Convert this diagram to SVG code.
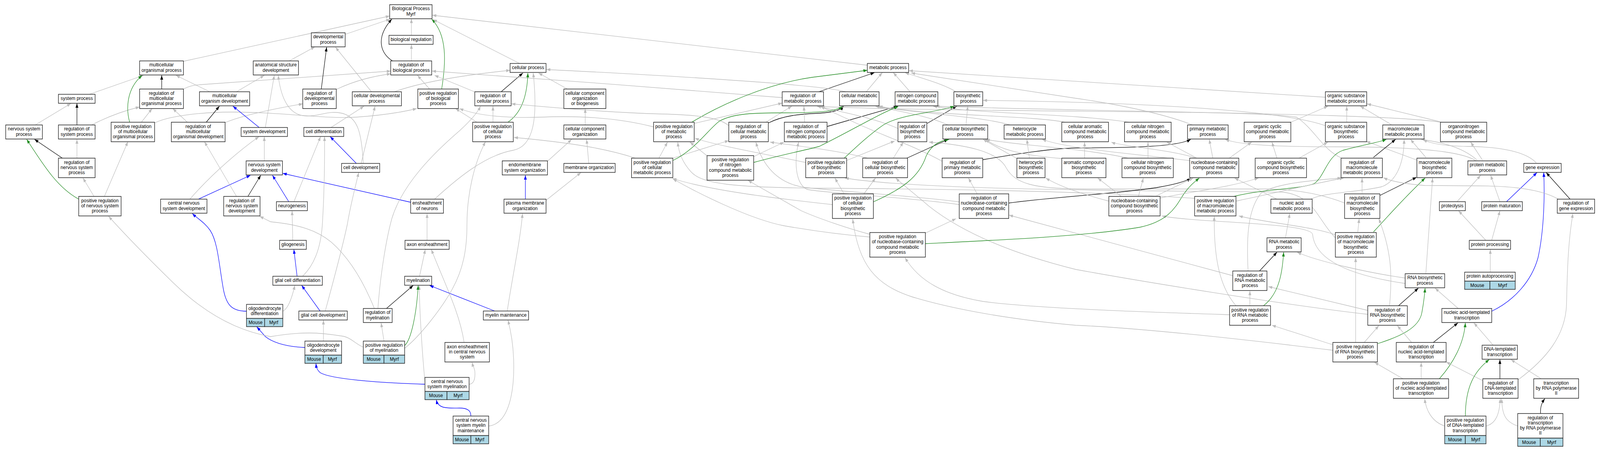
<svg xmlns="http://www.w3.org/2000/svg" width="4492" height="1155" viewBox="0 0 4492 1155" preserveAspectRatio="none" style="width:100%;height:100%;display:block">
<style>
.e{fill:none;stroke-width:1.3}
.g{stroke:#bdbdbd;marker-end:url(#mg)}
.k{stroke:#000;marker-end:url(#mk)}
.p{stroke:#228b22;marker-end:url(#mp)}
.b{stroke:#0000ff;marker-end:url(#mb)}
rect.n{fill:#fff;stroke:#222;stroke-width:1.5}
rect.m{fill:#add8e6;stroke:#222;stroke-width:1.5}
text{font-family:"Liberation Sans",Arial,sans-serif;font-size:13px;text-anchor:middle;fill:#000}
</style>
<defs>
<marker id="mg" viewBox="0 0 11 8" refX="11" refY="4" markerWidth="11" markerHeight="8" markerUnits="userSpaceOnUse" orient="auto"><path d="M0,0L11,4L0,8z" fill="#bdbdbd"/></marker>
<marker id="mk" viewBox="0 0 11 8" refX="11" refY="4" markerWidth="11" markerHeight="8" markerUnits="userSpaceOnUse" orient="auto"><path d="M0,0L11,4L0,8z" fill="#000"/></marker>
<marker id="mp" viewBox="0 0 11 8" refX="11" refY="4" markerWidth="11" markerHeight="8" markerUnits="userSpaceOnUse" orient="auto"><path d="M0,0L11,4L0,8z" fill="#228b22"/></marker>
<marker id="mb" viewBox="0 0 11 8" refX="11" refY="4" markerWidth="11" markerHeight="8" markerUnits="userSpaceOnUse" orient="auto"><path d="M0,0L11,4L0,8z" fill="#0000ff"/></marker>
</defs>
<rect x="0" y="0" width="4492" height="1155" fill="#fff"/>
<g id="edges" class="e">
<path class="g" d="M969,88 L1095,49"/>
<path class="g" d="M1155,90 L1155,48"/>
<path class="g" d="M515,157 L1094,41"/>
<path class="g" d="M812,156 L884,120"/>
<path class="g" d="M1155,156 L1155,114"/>
<path class="k" d="M1102,156 C1072,140 1050,100 1100,49"/>
<path class="p" d="M1240,228 C1252,160 1256,90 1212,49"/>
<path class="g" d="M1460,163 L1216,50"/>
<path class="g" d="M2435,167 L1214,39"/>
<path class="g" d="M252,241 L403,193"/>
<path class="k" d="M454,228 L454,193"/>
<path class="g" d="M589,235 L494,193"/>
<path class="g" d="M664,235 L742,193"/>
<path class="g" d="M515,228 Q535,218 560,217 L1097,182"/>
<path class="k" d="M902,228 L917,121"/>
<path class="g" d="M944,229 C1000,205 1050,195 1097,189"/>
<path class="g" d="M1043,235 L942,121"/>
<path class="g" d="M1107,235 C1200,205 1330,190 1432,180"/>
<path class="g" d="M1206,228 L1172,193"/>
<path class="g" d="M1332,235 L1220,193"/>
<path class="k" d="M1407,235 L1468,187"/>
<path class="g" d="M1593,228 L1512,187"/>
<path class="g" d="M2196,250 C1900,228 1500,200 1213,182"/>
<path class="k" d="M2299,235 L2455,186"/>
<path class="g" d="M2375,235 C2300,215 1800,190 1534,178"/>
<path class="g" d="M2432,235 L2477,186"/>
<path class="g" d="M2555,235 L2508,186"/>
<path class="g" d="M2684,235 C2650,215 2585,200 2541,186"/>
<path class="g" d="M3721,249 L2552,181"/>
<path class="g" d="M99,320 L199,265"/>
<path class="k" d="M216,320 L216,265"/>
<path class="g" d="M257,320 C300,300 350,283 392,274"/>
<path class="g" d="M397,313 L427,278"/>
<path class="g" d="M434,315 C470,298 560,287 650,287 C800,287 900,305 1000,300 C1080,295 1130,287 1170,278"/>
<path class="p" d="M364,313 C354,280 354,228 399,193"/>
<path class="g" d="M526,313 L485,278"/>
<path class="g" d="M632,314 C680,296 760,280 850,266"/>
<path class="k" d="M579,313 L616,272"/>
<path class="g" d="M745,326 L770,193"/>
<path class="b" d="M727,326 L654,272"/>
<path class="g" d="M930,326 L1022,272"/>
<path class="g" d="M1384,313 L1384,272"/>
<path class="g" d="M1339,313 L1279,278"/>
<path class="p" d="M1426,313 C1462,290 1480,250 1482,187"/>
<path class="g" d="M1643,320 L1643,278"/>
<path class="g" d="M1949,316 L2196,264"/>
<path class="g" d="M1835,325 C1750,305 1650,295 1520,300 C1420,303 1340,296 1290,278"/>
<path class="p" d="M1942,313 C2020,270 2150,215 2280,198 L2435,180"/>
<path class="g" d="M2150,313 L2223,272"/>
<path class="g" d="M2046,322 C2020,300 1950,294 1860,292 C1700,288 1550,275 1436,266"/>
<path class="k" d="M2157,315 C2200,295 2250,292 2300,290 C2340,288 2360,282 2368,272"/>
<path class="g" d="M2259,313 L2257,272"/>
<path class="k" d="M2322,324 L2520,272"/>
<path class="g" d="M2521,329 C2450,300 2350,285 2294,272"/>
<path class="k" d="M2603,316 L2686,272"/>
<path class="g" d="M2712,320 L2717,272"/>
<path class="g" d="M2662,320 C2600,295 2520,285 2458,272"/>
<path class="g" d="M2836,320 C2750,297 2560,290 2463,272"/>
<path class="g" d="M2990,313 C2900,296 2600,296 2467,272"/>
<path class="g" d="M3170,313 C3000,290 2750,292 2620,272"/>
<path class="g" d="M4044,313 C3900,290 3100,287 2627,272"/>
<path class="g" d="M3348,320 C3250,285 3100,262 3015,251 L2558,187"/>
<path class="g" d="M3624,313 L3728,272"/>
<path class="g" d="M3781,313 L3781,272"/>
<path class="g" d="M3721,322 C3600,282 3200,262 2760,257"/>
<path class="g" d="M3906,319 L3819,272"/>
<path class="g" d="M4044,312 L3838,266"/>
<path class="g" d="M4162,410 L4129,364"/>
<path class="g" d="M4147,410 C4100,372 4030,362 3990,357"/>
<path class="g" d="M4147,414 C4100,380 3900,376 3750,376 C3600,376 3480,372 3440,357"/>
<path class="g" d="M4313,417 C4280,385 4200,376 4120,375 C4060,374 4015,368 3996,357"/>
<path class="g" d="M4003,403 L3960,357"/>
<path class="g" d="M3978,410 L3836,362"/>
<path class="k" d="M3856,403 L3918,357"/>
<path class="g" d="M3765,404 C3715,385 3690,330 3640,300 C3500,280 2800,290 2304,273"/>
<path class="k" d="M3873,501 L3977,454"/>
<path class="g" d="M3824,495 L3824,456"/>
<path class="g" d="M3775,520 C3720,500 3650,484 3550,484 L3050,484 C2900,484 2850,470 2825,430 C2800,385 2700,370 2608,364"/>
<path class="g" d="M3812,594 L3816,560"/>
<path class="p" d="M3856,594 C3900,550 3950,500 4001,456"/>
<path class="g" d="M3750,602 C3700,582 3550,570 3478,553"/>
<path class="g" d="M3750,610 C3700,565 3690,500 3600,492 C3300,488 2600,490 2372,456"/>
<path class="g" d="M4003,701 L4022,456"/>
<path class="g" d="M3945,712 C3850,700 3700,670 3642,646"/>
<path class="g" d="M3945,726 C3750,700 3690,650 3685,600 C3680,570 3350,570 3262,553"/>
<path class="k" d="M3925,784 L3982,738"/>
<path class="g" d="M3901,784 C3910,700 3905,640 3871,560"/>
<path class="g" d="M3840,795 L3561,734"/>
<path class="g" d="M3840,805 C3600,780 3200,720 3020,690 C2800,640 2680,580 2608,528 C2560,490 2530,470 2515,456"/>
<path class="p" d="M3868,880 C3930,862 3985,840 3992,800 C3998,770 4000,750 4001,738"/>
<path class="g" d="M3830,877 L3871,834"/>
<path class="g" d="M3806,877 L3806,660"/>
<path class="g" d="M3742,883 L3571,833"/>
<path class="g" d="M3742,897 C3500,870 3200,840 3020,833 C2800,815 2650,785 2560,760 C2460,730 2410,680 2394,561"/>
<path class="g" d="M3963,877 L3923,834"/>
<path class="k" d="M4024,877 L4093,827"/>
<path class="g" d="M4192,884 L4138,827"/>
<path class="g" d="M4094,790 L4029,738"/>
<path class="b" d="M4188,797 C4250,770 4300,720 4318,660 C4335,590 4337,500 4334,442"/>
<path class="g" d="M3990,970 L3990,928"/>
<path class="p" d="M4041,970 C4080,930 4110,880 4114,827"/>
<path class="g" d="M3939,970 L3859,928"/>
<path class="g" d="M4163,975 L4060,927"/>
<path class="k" d="M4211,970 L4211,921"/>
<path class="g" d="M4263,972 C4340,920 4395,860 4398,780 C4400,700 4402,620 4416,547"/>
<path class="g" d="M4327,970 L4242,921"/>
<path class="g" d="M4056,1091 C4020,1080 4003,1050 4000,1021"/>
<path class="p" d="M4114,1066 C4114,990 4140,950 4181,921"/>
<path class="g" d="M4172,1091 C4200,1085 4210,1060 4212,1021"/>
<path class="g" d="M4261,1091 C4225,1080 4217,1060 4216,1021"/>
<path class="k" d="M4325,1059 C4324,1040 4330,1030 4337,1021"/>
<path class="g" d="M4184,697 L4184,639"/>
<path class="g" d="M4171,615 L4095,540"/>
<path class="g" d="M4188,615 L4211,540"/>
<path class="g" d="M4091,516 L4157,449"/>
<path class="g" d="M4211,516 L4185,449"/>
<path class="b" d="M4230,516 L4315,442"/>
<path class="k" d="M4408,510 L4341,442"/>
<path class="g" d="M4375,510 C4330,486 4250,476 4150,476 L4000,475 C3930,470 3900,462 3884,455"/>
<path class="g" d="M3680,510 C3720,492 3820,492 3880,478 C3930,460 3942,400 3942,357"/>
<path class="g" d="M3585,510 L3466,456"/>
<path class="g" d="M3609,609 L3621,547"/>
<path class="k" d="M3536,694 L3585,646"/>
<path class="g" d="M3461,706 L2833,551"/>
<path class="g" d="M3504,694 C3500,620 3500,540 3540,495 C3580,470 3680,462 3766,456"/>
<path class="g" d="M3509,783 L3509,745"/>
<path class="p" d="M3547,783 C3595,750 3600,690 3604,646"/>
<path class="g" d="M3470,783 C3420,730 3408,650 3409,554"/>
<path class="g" d="M3452,806 C3250,800 2900,790 2760,772 C2650,755 2580,720 2541,660"/>
<path class="g" d="M2598,597 L2684,560"/>
<path class="p" d="M2598,624 C2800,615 3050,605 3200,582 C3290,565 3305,520 3325,495 C3340,475 3355,465 3367,456"/>
<path class="g" d="M2442,607 C2350,600 2250,586 2200,578 C2100,560 1950,490 1889,458"/>
<path class="g" d="M2442,600 C2380,585 2300,560 2250,540 L2100,462"/>
<path class="g" d="M2743,496 L2719,456"/>
<path class="k" d="M2832,520 C2950,505 3150,495 3250,480 C3300,472 3330,465 3343,456"/>
<path class="g" d="M2693,517 C2550,500 2350,490 2260,480 C2180,470 2140,420 2122,364"/>
<path class="g" d="M2693,524 C2550,505 2320,495 2265,485 C2235,470 2228,420 2242,364"/>
<path class="g" d="M2645,413 C2560,370 2450,338 2380,305 L2304,273"/>
<path class="k" d="M2759,409 C2850,395 2950,380 3020,379 C3150,378 3300,378 3343,357"/>
<path class="g" d="M2890,405 L2883,357"/>
<path class="g" d="M2855,406 L2760,357"/>
<path class="g" d="M3045,405 L3045,364"/>
<path class="g" d="M2981,406 C2900,400 2820,390 2766,357"/>
<path class="g" d="M3223,405 L3223,364"/>
<path class="g" d="M3167,405 C3050,380 2850,372 2768,357"/>
<path class="g" d="M3357,405 C3300,385 3150,375 3120,364"/>
<path class="g" d="M3360,405 L3276,364"/>
<path class="g" d="M3345,412 C3200,395 3000,382 2926,357"/>
<path class="g" d="M3405,405 L3395,357"/>
<path class="g" d="M3451,405 L3514,364"/>
<path class="g" d="M3585,405 L3571,364"/>
<path class="g" d="M3647,405 L3728,364"/>
<path class="g" d="M3243,503 L3350,456"/>
<path class="g" d="M3196,503 L3210,456"/>
<path class="g" d="M3148,503 L3082,456"/>
<path class="g" d="M3113,515 C3050,500 2980,480 2936,456"/>
<path class="g" d="M3257,507 C3350,490 3450,480 3533,456"/>
<path class="p" d="M3464,503 C3560,482 3650,485 3690,470 C3720,450 3725,400 3770,385 C3830,370 3870,365 3892,357"/>
<path class="g" d="M3470,515 C3600,490 3700,468 3772,456"/>
<path class="g" d="M3354,508 C3100,492 2700,484 2300,482 C2050,480 1970,470 1940,440 C1915,415 1905,390 1903,364"/>
<path class="g" d="M2508,405 L2536,364"/>
<path class="k" d="M2546,405 L2662,357"/>
<path class="g" d="M2436,405 C2350,385 2250,375 2162,364"/>
<path class="g" d="M2377,411 L2512,361"/>
<path class="p" d="M2370,405 C2400,380 2440,345 2480,320 C2530,292 2620,290 2679,272"/>
<path class="g" d="M2262,416 C2150,395 2000,370 1951,354"/>
<path class="g" d="M2370,497 L2344,456"/>
<path class="g" d="M2425,497 L2458,456"/>
<path class="p" d="M2452,517 C2530,485 2580,455 2600,400 C2615,370 2640,360 2665,357"/>
<path class="g" d="M2337,524 C2200,510 2000,490 1888,457"/>
<path class="g" d="M1985,399 L1937,364"/>
<path class="g" d="M2116,401 L2201,364"/>
<path class="p" d="M2116,416 C2200,395 2260,385 2300,375 C2400,330 2470,290 2522,273"/>
<path class="g" d="M1850,405 L1874,364"/>
<path class="g" d="M1889,405 L2046,360"/>
<path class="p" d="M1889,411 C1950,385 1990,330 2020,310 C2060,290 2120,289 2200,289 C2300,289 2350,285 2365,272"/>
<path class="g" d="M1784,405 C1700,380 1600,365 1443,352"/>
<path class="g" d="M1537,413 L1605,357"/>
<path class="b" d="M1475,510 L1475,449"/>
<path class="g" d="M1533,513 L1631,442"/>
<path class="g" d="M1653,418 L1647,357"/>
<path class="b" d="M1153,518 L794,444"/>
<path class="g" d="M1220,510 C1280,460 1360,398 1440,385 C1500,375 1510,300 1497,187"/>
<path class="g" d="M1199,616 L1199,547"/>
<path class="g" d="M1178,707 L1194,639"/>
<path class="g" d="M822,616 L820,540"/>
<path class="g" d="M825,517 L900,350"/>
<path class="b" d="M811,517 L765,449"/>
<path class="b" d="M834,707 L825,639"/>
<path class="g" d="M850,707 C880,680 900,640 905,575 C910,500 912,420 911,350"/>
<path class="b" d="M1000,418 L927,350"/>
<path class="g" d="M1014,418 L1053,272"/>
<path class="g" d="M1020,418 C1015,340 1005,300 960,290 C920,282 900,298 860,297 C815,296 790,260 781,193"/>
<path class="b" d="M899,797 L847,731"/>
<path class="g" d="M913,797 C930,740 960,640 975,575 C985,520 1000,470 1007,442"/>
<path class="b" d="M692,797 C650,797 635,780 627,740 C615,680 612,620 590,590 C575,570 555,560 540,547"/>
<path class="g" d="M794,797 C810,790 820,760 828,731"/>
<path class="b" d="M856,890 C810,888 770,880 745,862 L721,837"/>
<path class="g" d="M908,873 L908,820"/>
<path class="b" d="M1193,984 C1050,980 930,970 900,955 C890,948 888,940 887,931"/>
<path class="g" d="M1193,978 C1185,900 1178,800 1177,731"/>
<path class="g" d="M1317,984 C1330,984 1335,970 1333,950 C1331,940 1327,935 1325,928"/>
<path class="b" d="M1322,1065 C1322,1050 1310,1045 1290,1045 C1250,1046 1230,1045 1225,1024"/>
<path class="g" d="M1372,1091 C1430,1085 1445,1000 1442,920 C1440,870 1432,840 1426,820"/>
<path class="g" d="M1303,877 C1290,800 1250,730 1211,639"/>
<path class="b" d="M1390,797 L1206,731"/>
<path class="g" d="M1424,797 C1440,700 1460,620 1467,547"/>
<path class="k" d="M1085,790 L1160,731"/>
<path class="g" d="M1051,790 C1020,720 980,660 930,620 C890,590 840,575 760,568 L729,554"/>
<path class="g" d="M1061,790 C1068,700 1085,610 1100,560 C1130,470 1220,390 1290,335 C1320,310 1340,290 1349,272"/>
<path class="g" d="M1078,873 L1070,827"/>
<path class="p" d="M1136,885 C1155,870 1170,800 1174,731"/>
<path class="g" d="M1136,892 C1180,860 1240,790 1270,740 C1300,690 1311,640 1311,575 C1311,500 1330,420 1363,363"/>
<path class="g" d="M1020,889 C995,880 985,862 955,860 C900,852 850,848 760,862 C650,845 560,790 485,723 C420,665 360,610 305,554"/>
<path class="g" d="M742,412 L742,350"/>
<path class="g" d="M533,510 C600,440 680,380 727,350"/>
<path class="b" d="M557,510 L703,449"/>
<path class="k" d="M696,503 L732,449"/>
<path class="g" d="M664,503 L574,363"/>
<path class="p" d="M221,510 C160,480 120,420 75,357"/>
<path class="g" d="M264,503 L233,456"/>
<path class="g" d="M293,503 L359,363"/>
<path class="k" d="M175,405 L97,357"/>
<path class="g" d="M216,405 L216,357"/>
</g>
<g id="nodes">
<g id="n-BP"><rect class="n" x="1094" y="12" width="119" height="36"/><text x="1153.5" y="26.4">Biological Process<tspan x="1153.5" dy="13.2">Myrf</tspan></text></g>
<g id="n-DEV"><rect class="n" x="874" y="84" width="95" height="36"/><text x="921.5" y="98.4">developmental<tspan x="921.5" dy="13.2">process</tspan></text></g>
<g id="n-BREG"><rect class="n" x="1092" y="90.5" width="124" height="23"/><text x="1154" y="105">biological regulation</text></g>
<g id="n-MOP"><rect class="n" x="392" y="156" width="123" height="36"/><text x="453.5" y="170.4">multicellular<tspan x="453.5" dy="13.2">organismal process</tspan></text></g>
<g id="n-ASD"><rect class="n" x="711" y="156" width="127" height="36"/><text x="774.5" y="170.4">anatomical structure<tspan x="774.5" dy="13.2">development</tspan></text></g>
<g id="n-RBP"><rect class="n" x="1097" y="156" width="115" height="36"/><text x="1154.5" y="170.4">regulation of<tspan x="1154.5" dy="13.2">biological process</tspan></text></g>
<g id="n-CP"><rect class="n" x="1432" y="162.5" width="101" height="23"/><text x="1482.5" y="177">cellular process</text></g>
<g id="n-MP"><rect class="n" x="2435" y="162.5" width="116" height="23"/><text x="2493" y="177">metabolic process</text></g>
<g id="n-SP"><rect class="n" x="164" y="241.5" width="103" height="23"/><text x="215.5" y="256">system process</text></g>
<g id="n-RMOP"><rect class="n" x="392" y="228" width="123" height="50"/><text x="453.5" y="242.8">regulation of<tspan x="453.5" dy="13.2">multicellular</tspan><tspan x="453.5" dy="13.2">organismal process</tspan></text></g>
<g id="n-MOD"><rect class="n" x="560" y="235" width="141" height="36"/><text x="630.5" y="249.4">multicellular<tspan x="630.5" dy="13.2">organism development</tspan></text></g>
<g id="n-RDP"><rect class="n" x="850" y="228" width="94" height="50"/><text x="897" y="242.8">regulation of<tspan x="897" dy="13.2">developmental</tspan><tspan x="897" dy="13.2">process</tspan></text></g>
<g id="n-CDP"><rect class="n" x="989" y="235" width="138" height="36"/><text x="1058" y="249.4">cellular developmental<tspan x="1058" dy="13.2">process</tspan></text></g>
<g id="n-PRBP"><rect class="n" x="1173" y="228" width="114" height="50"/><text x="1230" y="242.8">positive regulation<tspan x="1230" dy="13.2">of biological</tspan><tspan x="1230" dy="13.2">process</tspan></text></g>
<g id="n-RCP"><rect class="n" x="1333" y="235" width="102" height="36"/><text x="1384" y="249.4">regulation of<tspan x="1384" dy="13.2">cellular process</tspan></text></g>
<g id="n-CCOB"><rect class="n" x="1583" y="228" width="118" height="50"/><text x="1642" y="242.8">cellular component<tspan x="1642" dy="13.2">organization</tspan><tspan x="1642" dy="13.2">or biogenesis</tspan></text></g>
<g id="n-RMP"><rect class="n" x="2196" y="235" width="116" height="36"/><text x="2254" y="249.4">regulation of<tspan x="2254" dy="13.2">metabolic process</tspan></text></g>
<g id="n-CMP"><rect class="n" x="2357" y="235" width="111" height="36"/><text x="2412.5" y="249.4">cellular metabolic<tspan x="2412.5" dy="13.2">process</tspan></text></g>
<g id="n-NCMP"><rect class="n" x="2513" y="235" width="120" height="36"/><text x="2573" y="249.4">nitrogen compound<tspan x="2573" dy="13.2">metabolic process</tspan></text></g>
<g id="n-BSP"><rect class="n" x="2678" y="235" width="81" height="36"/><text x="2718.5" y="249.4">biosynthetic<tspan x="2718.5" dy="13.2">process</tspan></text></g>
<g id="n-OSMP"><rect class="n" x="3721" y="235" width="116" height="36"/><text x="3779" y="249.4">organic substance<tspan x="3779" dy="13.2">metabolic process</tspan></text></g>
<g id="n-NSP"><rect class="n" x="16" y="320" width="103" height="36"/><text x="67.5" y="334.4">nervous system<tspan x="67.5" dy="13.2">process</tspan></text></g>
<g id="n-RSP"><rect class="n" x="164" y="320" width="103" height="36"/><text x="215.5" y="334.4">regulation of<tspan x="215.5" dy="13.2">system process</tspan></text></g>
<g id="n-PRMOP"><rect class="n" x="312" y="313" width="122" height="50"/><text x="373" y="327.8">positive regulation<tspan x="373" dy="13.2">of multicellular</tspan><tspan x="373" dy="13.2">organismal process</tspan></text></g>
<g id="n-RMOD"><rect class="n" x="481" y="313" width="151" height="50"/><text x="556.5" y="327.8">regulation of<tspan x="556.5" dy="13.2">multicellular</tspan><tspan x="556.5" dy="13.2">organismal development</tspan></text></g>
<g id="n-SD"><rect class="n" x="677" y="326.5" width="130" height="23"/><text x="742" y="341">system development</text></g>
<g id="n-CD"><rect class="n" x="853" y="326.5" width="112" height="23"/><text x="909" y="341">cell differentiation</text></g>
<g id="n-PRCP"><rect class="n" x="1327" y="313" width="114" height="50"/><text x="1384" y="327.8">positive regulation<tspan x="1384" dy="13.2">of cellular</tspan><tspan x="1384" dy="13.2">process</tspan></text></g>
<g id="n-CCO"><rect class="n" x="1583" y="320" width="118" height="36"/><text x="1642" y="334.4">cellular component<tspan x="1642" dy="13.2">organization</tspan></text></g>
<g id="n-PRMP"><rect class="n" x="1835" y="313" width="114" height="50"/><text x="1892" y="327.8">positive regulation<tspan x="1892" dy="13.2">of metabolic</tspan><tspan x="1892" dy="13.2">process</tspan></text></g>
<g id="n-RCMP"><rect class="n" x="2046" y="313" width="111" height="50"/><text x="2101.5" y="327.8">regulation of<tspan x="2101.5" dy="13.2">cellular metabolic</tspan><tspan x="2101.5" dy="13.2">process</tspan></text></g>
<g id="n-RNCMP"><rect class="n" x="2202" y="313" width="120" height="50"/><text x="2262" y="327.8">regulation of<tspan x="2262" dy="13.2">nitrogen compound</tspan><tspan x="2262" dy="13.2">metabolic process</tspan></text></g>
<g id="n-RBSP"><rect class="n" x="2521" y="313" width="81" height="50"/><text x="2561.5" y="327.8">regulation of<tspan x="2561.5" dy="13.2">biosynthetic</tspan><tspan x="2561.5" dy="13.2">process</tspan></text></g>
<g id="n-CBSP"><rect class="n" x="2647" y="320" width="126" height="36"/><text x="2710" y="334.4">cellular biosynthetic<tspan x="2710" dy="13.2">process</tspan></text></g>
<g id="n-HMP"><rect class="n" x="2819" y="320" width="116" height="36"/><text x="2877" y="334.4">heterocycle<tspan x="2877" dy="13.2">metabolic process</tspan></text></g>
<g id="n-CACMP"><rect class="n" x="2981" y="313" width="131" height="50"/><text x="3046.5" y="327.8">cellular aromatic<tspan x="3046.5" dy="13.2">compound metabolic</tspan><tspan x="3046.5" dy="13.2">process</tspan></text></g>
<g id="n-CNCMP"><rect class="n" x="3157" y="313" width="131" height="50"/><text x="3222.5" y="327.8">cellular nitrogen<tspan x="3222.5" dy="13.2">compound metabolic</tspan><tspan x="3222.5" dy="13.2">process</tspan></text></g>
<g id="n-PMP"><rect class="n" x="3334" y="320" width="114" height="36"/><text x="3391" y="334.4">primary metabolic<tspan x="3391" dy="13.2">process</tspan></text></g>
<g id="n-OCCMP"><rect class="n" x="3493" y="313" width="131" height="50"/><text x="3558.5" y="327.8">organic cyclic<tspan x="3558.5" dy="13.2">compound metabolic</tspan><tspan x="3558.5" dy="13.2">process</tspan></text></g>
<g id="n-OSBP"><rect class="n" x="3721" y="313" width="116" height="50"/><text x="3779" y="327.8">organic substance<tspan x="3779" dy="13.2">biosynthetic</tspan><tspan x="3779" dy="13.2">process</tspan></text></g>
<g id="n-MMP"><rect class="n" x="3882" y="320" width="116" height="36"/><text x="3940" y="334.4">macromolecule<tspan x="3940" dy="13.2">metabolic process</tspan></text></g>
<g id="n-ONCMP"><rect class="n" x="4044" y="313" width="130" height="50"/><text x="4109" y="327.8">organonitrogen<tspan x="4109" dy="13.2">compound metabolic</tspan><tspan x="4109" dy="13.2">process</tspan></text></g>
<g id="n-RNSP"><rect class="n" x="164" y="405" width="103" height="50"/><text x="215.5" y="419.8">regulation of<tspan x="215.5" dy="13.2">nervous system</tspan><tspan x="215.5" dy="13.2">process</tspan></text></g>
<g id="n-NSD"><rect class="n" x="691" y="412" width="102" height="36"/><text x="742" y="426.4">nervous system<tspan x="742" dy="13.2">development</tspan></text></g>
<g id="n-CDEV"><rect class="n" x="959" y="418.5" width="107" height="23"/><text x="1012.5" y="433">cell development</text></g>
<g id="n-ESO"><rect class="n" x="1410" y="412" width="127" height="36"/><text x="1473.5" y="426.4">endomembrane<tspan x="1473.5" dy="13.2">system organization</tspan></text></g>
<g id="n-MO"><rect class="n" x="1583" y="418.5" width="144" height="23"/><text x="1655" y="433">membrane organization</text></g>
<g id="n-PRCMP"><rect class="n" x="1773" y="405" width="116" height="50"/><text x="1831" y="419.8">positive regulation<tspan x="1831" dy="13.2">of cellular</tspan><tspan x="1831" dy="13.2">metabolic process</tspan></text></g>
<g id="n-PRNCMP"><rect class="n" x="1985" y="398.5" width="131" height="63"/><text x="2050.5" y="413.2">positive regulation<tspan x="2050.5" dy="13.2">of nitrogen</tspan><tspan x="2050.5" dy="13.2">compound metabolic</tspan><tspan x="2050.5" dy="13.2">process</tspan></text></g>
<g id="n-PRBSP"><rect class="n" x="2262" y="405" width="115" height="50"/><text x="2319.5" y="419.8">positive regulation<tspan x="2319.5" dy="13.2">of biosynthetic</tspan><tspan x="2319.5" dy="13.2">process</tspan></text></g>
<g id="n-RCBSP"><rect class="n" x="2422" y="405" width="126" height="50"/><text x="2485" y="419.8">regulation of<tspan x="2485" dy="13.2">cellular biosynthetic</tspan><tspan x="2485" dy="13.2">process</tspan></text></g>
<g id="n-RPMP"><rect class="n" x="2645" y="405" width="114" height="50"/><text x="2702" y="419.8">regulation of<tspan x="2702" dy="13.2">primary metabolic</tspan><tspan x="2702" dy="13.2">process</tspan></text></g>
<g id="n-HBSP"><rect class="n" x="2855" y="405" width="79" height="50"/><text x="2894.5" y="419.8">heterocycle<tspan x="2894.5" dy="13.2">biosynthetic</tspan><tspan x="2894.5" dy="13.2">process</tspan></text></g>
<g id="n-ACBSP"><rect class="n" x="2981" y="405" width="124" height="50"/><text x="3043" y="419.8">aromatic compound<tspan x="3043" dy="13.2">biosynthetic</tspan><tspan x="3043" dy="13.2">process</tspan></text></g>
<g id="n-CNCBSP"><rect class="n" x="3150" y="405" width="144" height="50"/><text x="3222" y="419.8">cellular nitrogen<tspan x="3222" dy="13.2">compound biosynthetic</tspan><tspan x="3222" dy="13.2">process</tspan></text></g>
<g id="n-NBCMP"><rect class="n" x="3340" y="405" width="138" height="50"/><text x="3409" y="419.8">nucleobase-containing<tspan x="3409" dy="13.2">compound metabolic</tspan><tspan x="3409" dy="13.2">process</tspan></text></g>
<g id="n-OCCBSP"><rect class="n" x="3524" y="405" width="144" height="50"/><text x="3596" y="419.8">organic cyclic<tspan x="3596" dy="13.2">compound biosynthetic</tspan><tspan x="3596" dy="13.2">process</tspan></text></g>
<g id="n-RMMP"><rect class="n" x="3765" y="405" width="116" height="50"/><text x="3823" y="419.8">regulation of<tspan x="3823" dy="13.2">macromolecule</tspan><tspan x="3823" dy="13.2">metabolic process</tspan></text></g>
<g id="n-MBSP"><rect class="n" x="3978" y="405" width="98" height="50"/><text x="4027" y="419.8">macromolecule<tspan x="4027" dy="13.2">biosynthetic</tspan><tspan x="4027" dy="13.2">process</tspan></text></g>
<g id="n-PMET"><rect class="n" x="4121" y="412" width="109" height="36"/><text x="4175.5" y="426.4">protein metabolic<tspan x="4175.5" dy="13.2">process</tspan></text></g>
<g id="n-GE"><rect class="n" x="4278" y="418.5" width="105" height="23"/><text x="4330.5" y="433">gene expression</text></g>
<g id="n-PRNSP"><rect class="n" x="221" y="503" width="119" height="50"/><text x="280.5" y="517.8">positive regulation<tspan x="280.5" dy="13.2">of nervous system</tspan><tspan x="280.5" dy="13.2">process</tspan></text></g>
<g id="n-CNSD"><rect class="n" x="451" y="510" width="130" height="36"/><text x="516" y="524.4">central nervous<tspan x="516" dy="13.2">system development</tspan></text></g>
<g id="n-RNSD"><rect class="n" x="628" y="503" width="102" height="50"/><text x="679" y="517.8">regulation of<tspan x="679" dy="13.2">nervous system</tspan><tspan x="679" dy="13.2">development</tspan></text></g>
<g id="n-NG"><rect class="n" x="776" y="516.5" width="87" height="23"/><text x="819.5" y="531">neurogenesis</text></g>
<g id="n-EON"><rect class="n" x="1153" y="510" width="92" height="36"/><text x="1199" y="524.4">ensheathment<tspan x="1199" dy="13.2">of neurons</tspan></text></g>
<g id="n-PMO"><rect class="n" x="1415" y="510" width="118" height="36"/><text x="1474" y="524.4">plasma membrane<tspan x="1474" dy="13.2">organization</tspan></text></g>
<g id="n-PRCBSP"><rect class="n" x="2337" y="496.5" width="115" height="63"/><text x="2394.5" y="511.2">positive regulation<tspan x="2394.5" dy="13.2">of cellular</tspan><tspan x="2394.5" dy="13.2">biosynthetic</tspan><tspan x="2394.5" dy="13.2">process</tspan></text></g>
<g id="n-RNBC"><rect class="n" x="2693" y="496.5" width="139" height="63"/><text x="2762.5" y="511.2">regulation of<tspan x="2762.5" dy="13.2">nucleobase-containing</tspan><tspan x="2762.5" dy="13.2">compound metabolic</tspan><tspan x="2762.5" dy="13.2">process</tspan></text></g>
<g id="n-NBCBSP"><rect class="n" x="3113" y="503" width="144" height="50"/><text x="3185" y="517.8">nucleobase-containing<tspan x="3185" dy="13.2">compound biosynthetic</tspan><tspan x="3185" dy="13.2">process</tspan></text></g>
<g id="n-PRMMP"><rect class="n" x="3354" y="503" width="116" height="50"/><text x="3412" y="517.8">positive regulation<tspan x="3412" dy="13.2">of macromolecule</tspan><tspan x="3412" dy="13.2">metabolic process</tspan></text></g>
<g id="n-NAMP"><rect class="n" x="3568" y="510" width="116" height="36"/><text x="3626" y="524.4">nucleic acid<tspan x="3626" dy="13.2">metabolic process</tspan></text></g>
<g id="n-RMBSP"><rect class="n" x="3775" y="496.5" width="99" height="63"/><text x="3824.5" y="511.2">regulation of<tspan x="3824.5" dy="13.2">macromolecule</tspan><tspan x="3824.5" dy="13.2">biosynthetic</tspan><tspan x="3824.5" dy="13.2">process</tspan></text></g>
<g id="n-PROT"><rect class="n" x="4041" y="516.5" width="73" height="23"/><text x="4077.5" y="531">proteolysis</text></g>
<g id="n-PMAT"><rect class="n" x="4160" y="516.5" width="114" height="23"/><text x="4217" y="531">protein maturation</text></g>
<g id="n-RGE"><rect class="n" x="4372" y="510" width="105" height="36"/><text x="4424.5" y="524.4">regulation of<tspan x="4424.5" dy="13.2">gene expression</tspan></text></g>
<g id="n-GLIO"><rect class="n" x="785" y="615.5" width="75" height="23"/><text x="822.5" y="630">gliogenesis</text></g>
<g id="n-AE"><rect class="n" x="1137" y="615.5" width="124" height="23"/><text x="1199" y="630">axon ensheathment</text></g>
<g id="n-PRNBC"><rect class="n" x="2442" y="595.5" width="156" height="63"/><text x="2520" y="610.2">positive regulation<tspan x="2520" dy="13.2">of nucleobase-containing</tspan><tspan x="2520" dy="13.2">compound metabolic</tspan><tspan x="2520" dy="13.2">process</tspan></text></g>
<g id="n-RNAMP"><rect class="n" x="3557" y="609" width="96" height="36"/><text x="3605" y="623.4">RNA metabolic<tspan x="3605" dy="13.2">process</tspan></text></g>
<g id="n-PRMBSP"><rect class="n" x="3749" y="595.5" width="115" height="63"/><text x="3806.5" y="610.2">positive regulation<tspan x="3806.5" dy="13.2">of macromolecule</tspan><tspan x="3806.5" dy="13.2">biosynthetic</tspan><tspan x="3806.5" dy="13.2">process</tspan></text></g>
<g id="n-PPROC"><rect class="n" x="4125" y="615.5" width="116" height="23"/><text x="4183" y="630">protein processing</text></g>
<g id="n-GCD"><rect class="n" x="766" y="707.5" width="139" height="23"/><text x="835.5" y="722">glial cell differentiation</text></g>
<g id="n-MYEL"><rect class="n" x="1136" y="707.5" width="76" height="23"/><text x="1174" y="722">myelination</text></g>
<g id="n-RRNAMP"><rect class="n" x="3461" y="694" width="96" height="50"/><text x="3509" y="708.8">regulation of<tspan x="3509" dy="13.2">RNA metabolic</tspan><tspan x="3509" dy="13.2">process</tspan></text></g>
<g id="n-RNABSP"><rect class="n" x="3945" y="701" width="111" height="36"/><text x="4000.5" y="715.4">RNA biosynthetic<tspan x="4000.5" dy="13.2">process</tspan></text></g>
<g id="n-PAUTO"><rect class="n" x="4112" y="697" width="142" height="23"/><rect class="m" x="4112" y="720" width="71" height="21"/><rect class="m" x="4183" y="720" width="71" height="21"/><text x="4183" y="711.5">protein autoprocessing</text><text x="4147.5" y="735">Mouse</text><text x="4218.5" y="735">Myrf</text></g>
<g id="n-ODIFF"><rect class="n" x="692" y="779.5" width="102" height="36"/><rect class="m" x="692" y="815.5" width="51" height="21"/><rect class="m" x="743" y="815.5" width="51" height="21"/><text x="743" y="793.9">oligodendrocyte<tspan x="743" dy="13.2">differentiation</tspan></text><text x="717.5" y="830.5">Mouse</text><text x="768.5" y="830.5">Myrf</text></g>
<g id="n-GCDEV"><rect class="n" x="839" y="796.5" width="136" height="23"/><text x="907" y="811">glial cell development</text></g>
<g id="n-RMYEL"><rect class="n" x="1020" y="790" width="81" height="36"/><text x="1060.5" y="804.4">regulation of<tspan x="1060.5" dy="13.2">myelination</tspan></text></g>
<g id="n-MM"><rect class="n" x="1357" y="796.5" width="127" height="23"/><text x="1420.5" y="811">myelin maintenance</text></g>
<g id="n-PRRNAMP"><rect class="n" x="3452" y="783" width="115" height="50"/><text x="3509.5" y="797.8">positive regulation<tspan x="3509.5" dy="13.2">of RNA metabolic</tspan><tspan x="3509.5" dy="13.2">process</tspan></text></g>
<g id="n-RRNABSP"><rect class="n" x="3840" y="783" width="111" height="50"/><text x="3895.5" y="797.8">regulation of<tspan x="3895.5" dy="13.2">RNA biosynthetic</tspan><tspan x="3895.5" dy="13.2">process</tspan></text></g>
<g id="n-NATT"><rect class="n" x="4048" y="790" width="140" height="36"/><text x="4118" y="804.4">nucleic acid-templated<tspan x="4118" dy="13.2">transcription</tspan></text></g>
<g id="n-ODEV"><rect class="n" x="856" y="873.5" width="103" height="36"/><rect class="m" x="856" y="909.5" width="51.5" height="21"/><rect class="m" x="907.5" y="909.5" width="51.5" height="21"/><text x="907.5" y="887.9">oligodendrocyte<tspan x="907.5" dy="13.2">development</tspan></text><text x="881.75" y="924.5">Mouse</text><text x="933.25" y="924.5">Myrf</text></g>
<g id="n-PRMYEL"><rect class="n" x="1020" y="873.5" width="116" height="36"/><rect class="m" x="1020" y="909.5" width="58" height="21"/><rect class="m" x="1078" y="909.5" width="58" height="21"/><text x="1078" y="887.9">positive regulation<tspan x="1078" dy="13.2">of myelination</tspan></text><text x="1049" y="924.5">Mouse</text><text x="1107" y="924.5">Myrf</text></g>
<g id="n-AECNS"><rect class="n" x="1249" y="877" width="125" height="50"/><text x="1311.5" y="891.8">axon ensheathment<tspan x="1311.5" dy="13.2">in central nervous</tspan><tspan x="1311.5" dy="13.2">system</tspan></text></g>
<g id="n-PRRNABSP"><rect class="n" x="3742" y="877" width="125" height="50"/><text x="3804.5" y="891.8">positive regulation<tspan x="3804.5" dy="13.2">of RNA biosynthetic</tspan><tspan x="3804.5" dy="13.2">process</tspan></text></g>
<g id="n-RNATT"><rect class="n" x="3920" y="877" width="140" height="50"/><text x="3990" y="891.8">regulation of<tspan x="3990" dy="13.2">nucleic acid-templated</tspan><tspan x="3990" dy="13.2">transcription</tspan></text></g>
<g id="n-DTT"><rect class="n" x="4161" y="884" width="99" height="36"/><text x="4210.5" y="898.4">DNA-templated<tspan x="4210.5" dy="13.2">transcription</tspan></text></g>
<g id="n-CNSMYEL"><rect class="n" x="1193" y="966.5" width="124" height="36"/><rect class="m" x="1193" y="1002.5" width="62" height="21"/><rect class="m" x="1255" y="1002.5" width="62" height="21"/><text x="1255" y="980.9">central nervous<tspan x="1255" dy="13.2">system myelination</tspan></text><text x="1224" y="1017.5">Mouse</text><text x="1286" y="1017.5">Myrf</text></g>
<g id="n-PRNATT"><rect class="n" x="3912" y="970" width="155" height="50"/><text x="3989.5" y="984.8">positive regulation<tspan x="3989.5" dy="13.2">of nucleic acid-templated</tspan><tspan x="3989.5" dy="13.2">transcription</tspan></text></g>
<g id="n-RDTT"><rect class="n" x="4163" y="970" width="99" height="50"/><text x="4212.5" y="984.8">regulation of<tspan x="4212.5" dy="13.2">DNA-templated</tspan><tspan x="4212.5" dy="13.2">transcription</tspan></text></g>
<g id="n-TRP2"><rect class="n" x="4306" y="970" width="126" height="50"/><text x="4369" y="984.8">transcription<tspan x="4369" dy="13.2">by RNA polymerase</tspan><tspan x="4369" dy="13.2">II</tspan></text></g>
<g id="n-CNSMM"><rect class="n" x="1272" y="1065.5" width="100" height="50"/><rect class="m" x="1272" y="1115.5" width="50" height="21"/><rect class="m" x="1322" y="1115.5" width="50" height="21"/><text x="1322" y="1080.3">central nervous<tspan x="1322" dy="13.2">system myelin</tspan><tspan x="1322" dy="13.2">maintenance</tspan></text><text x="1297" y="1130.5">Mouse</text><text x="1347" y="1130.5">Myrf</text></g>
<g id="n-PRDTT"><rect class="n" x="4056" y="1065.5" width="116" height="50"/><rect class="m" x="4056" y="1115.5" width="58" height="21"/><rect class="m" x="4114" y="1115.5" width="58" height="21"/><text x="4114" y="1080.3">positive regulation<tspan x="4114" dy="13.2">of DNA-templated</tspan><tspan x="4114" dy="13.2">transcription</tspan></text><text x="4085" y="1130.5">Mouse</text><text x="4143" y="1130.5">Myrf</text></g>
<g id="n-RTRP2"><rect class="n" x="4261" y="1059" width="127" height="63"/><rect class="m" x="4261" y="1122" width="63.5" height="21"/><rect class="m" x="4324.5" y="1122" width="63.5" height="21"/><text x="4324.5" y="1073.7">regulation of<tspan x="4324.5" dy="13.2">transcription</tspan><tspan x="4324.5" dy="13.2">by RNA polymerase</tspan><tspan x="4324.5" dy="13.2">II</tspan></text><text x="4292.75" y="1137">Mouse</text><text x="4356.25" y="1137">Myrf</text></g>
</g>
</svg>
